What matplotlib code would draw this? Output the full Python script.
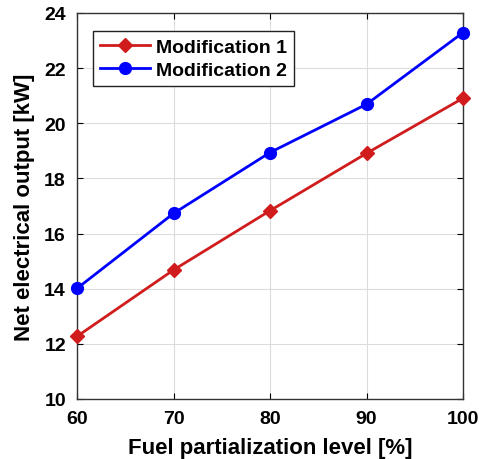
import numpy as np
import matplotlib
matplotlib.use('Agg')
from matplotlib import pyplot as plt

plt.rcParams['font.family'] = ['Liberation Sans', 'DejaVu Sans']
plt.rcParams['font.weight'] = 'bold'

level = [60, 70, 80, 90, 100]
mod1 = [12.27, 14.68, 16.83, 18.91, 20.91]
mod2 = [14.01, 16.73, 18.94, 20.69, 23.29]

fig = plt.figure(figsize=(4.79, 4.60), dpi=100)
ax = fig.add_axes([77/479, 60/460, 386/479, 386/460])

ax.plot(level, mod1, color='#d01c1c', lw=2, marker='D', ms=7, label='Modification 1', clip_on=False, zorder=3)
ax.plot(level, mod2, color='#0000ff', lw=2, marker='o', ms=8.5, label='Modification 2', clip_on=False, zorder=3)

ax.set_xlim(60, 100)
ax.set_ylim(10, 24)
ax.set_xticks([60, 70, 80, 90, 100])
ax.set_yticks(np.arange(10, 25, 2))
ax.grid(True, color='#dcdcdc', lw=0.8)
ax.set_axisbelow(True)
ax.tick_params(direction='in', top=True, right=True, labelsize=14, length=4, width=0.8)
ax.tick_params(axis='x', pad=8)
ax.tick_params(axis='y', pad=8)
for s in ax.spines.values():
    s.set_linewidth(1.0)
    s.set_color('#333333')

ax.set_xlabel('Fuel partialization level [%]', fontsize=16, fontweight='bold', labelpad=7)
ax.set_ylabel('Net electrical output [kW]', fontsize=16, fontweight='bold')
ax.yaxis.set_label_coords(-0.11, 0.5)

leg = ax.legend(loc='upper left', fontsize=14, fancybox=False, framealpha=1,
                edgecolor='#222222', borderpad=0.35, handlelength=2.6, handletextpad=0.3,
                labelspacing=0.3, borderaxespad=0, bbox_to_anchor=(0.041, 0.953))
leg.get_frame().set_linewidth(1.0)

fig.savefig('out.png', dpi=100)
